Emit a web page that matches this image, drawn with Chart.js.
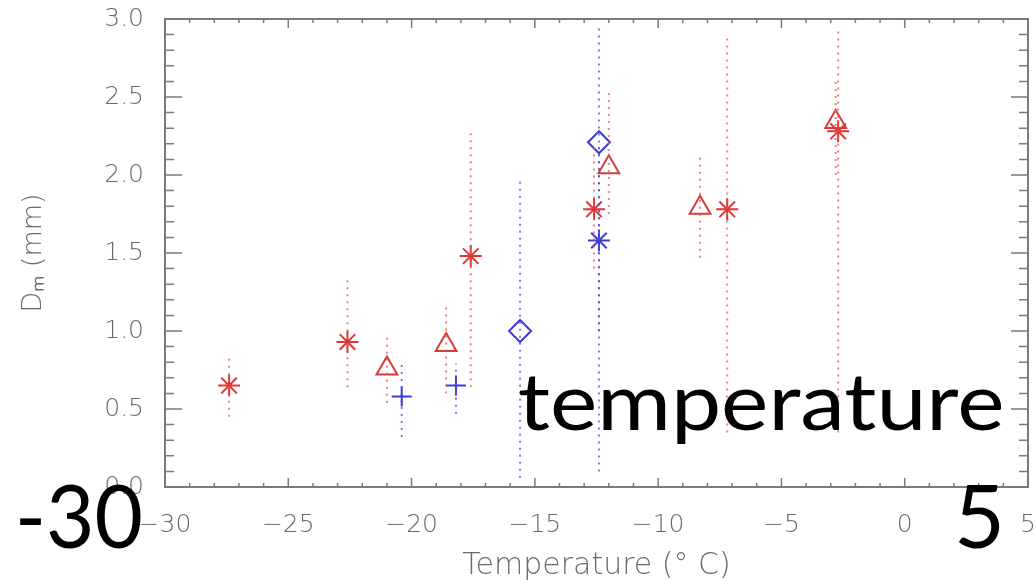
<!DOCTYPE html>
<html>
<head>
<meta charset="utf-8">
<script src="https://cdn.jsdelivr.net/npm/chart.js@4.4.1/dist/chart.umd.min.js"></script>
<style>
  body { margin: 0; background: #fff; }
  #wrap { position: relative; width: 1036px; height: 584px; }
  .big { position: absolute; font-family: Lato, "Open Sans", sans-serif; color: #000; line-height: 1; white-space: nowrap; transform-origin: left top; }
</style>
</head>
<body>
<div id="wrap">
  <canvas id="myChart" width="1036" height="584"></canvas>
  <div class="big" style="left:518px;top:359px;font-size:80px;transform:scaleX(1.12)">temperature</div>
  <div class="big" style="left:15px;top:470px;font-size:88px;transform:scaleX(0.95)">-30</div>
  <div class="big" style="left:954px;top:470px;font-size:88px">5</div>
</div>
<script>
// red asterisks
var redStarT  = [-27.4, -22.6, -17.6, -12.6, -7.2, -2.7];
var redStarD  = [0.65, 0.93, 1.48, 1.78, 1.78, 2.28];
var redStarLo = [0.45, 0.64, 0.64, 1.40, 0.35, 0.35];
var redStarHi = [0.84, 1.33, 2.30, 2.20, 2.88, 2.92];

// red triangles
var redTriT  = [-21.0, -18.6, -12.0, -8.3, -2.8];
var redTriD  = [0.76, 0.91, 2.05, 1.79, 2.34];
var redTriLo = [0.54, 0.60, 1.75, 1.47, 2.00];
var redTriHi = [0.96, 1.15, 2.55, 2.13, 2.60];

// blue diamonds
var blueDiaT  = [-15.6, -12.4];
var blueDiaD  = [1.00, 2.21];
var blueDiaLo = [0.06, 0.10];
var blueDiaHi = [1.98, 2.95];

// blue asterisk
var blueStarT  = [-12.4];
var blueStarD  = [1.58];
var blueStarLo = [1.00];
var blueStarHi = [2.20];

// blue pluses
var bluePlusT  = [-20.4, -18.2];
var bluePlusD  = [0.58, 0.65];
var bluePlusLo = [0.32, 0.47];
var bluePlusHi = [0.80, 0.79];

var xTicks = [-30, -25, -20, -15, -10, -5, 0, 5];
var yTicks = [0.0, 0.5, 1.0, 1.5, 2.0, 2.5, 3.0];

var red = 'rgb(228,52,52)';
var blue = 'rgb(60,60,215)';
var redBar = 'rgba(225,90,90,0.75)';
var blueBar = 'rgba(80,80,215,0.75)';
var axisGray = '#7a7a7a';
var textGray = '#6a6a6a';
var tickFont = { family: 'DejaVu Sans', size: 25, weight: '200' };

function points(xs, ys) {
    var out = [];
    for (var i = 0; i < xs.length; i++) out.push({x: xs[i], y: ys[i]});
    return out;
}

var datasets = [];

function addBars(xs, lo, hi, color) {
    for (var i = 0; i < xs.length; i++) {
        datasets.push({
            type: 'line',
            data: [{x: xs[i], y: lo[i]}, {x: xs[i], y: hi[i]}],
            borderColor: color,
            borderWidth: 2,
            borderDash: [2, 5],
            pointRadius: 0,
            fill: false
        });
    }
}
addBars(redStarT, redStarLo, redStarHi, redBar);
addBars(redTriT, redTriLo, redTriHi, redBar);
addBars(blueDiaT, blueDiaLo, blueDiaHi, blueBar);
addBars(blueStarT, blueStarLo, blueStarHi, blueBar);
addBars(bluePlusT, bluePlusLo, bluePlusHi, blueBar);

function addMarks(xs, ys, style, r, color) {
    datasets.push({
        type: 'scatter',
        data: points(xs, ys),
        pointStyle: style,
        pointRadius: r,
        pointBorderWidth: 2,
        pointBorderColor: color,
        pointBackgroundColor: 'rgba(0,0,0,0)'
    });
}
addMarks(redTriT, redTriD, 'triangle', 12, 'rgb(215,60,60)');
addMarks(blueDiaT, blueDiaD, 'rectRot', 11, blue);
addMarks(bluePlusT, bluePlusD, 'cross', 10, blue);
addMarks(redStarT, redStarD, 'star', 11, red);
addMarks(blueStarT, blueStarD, 'star', 11, blue);

// box with inward ticks on all four sides
var frame = {
    id: 'frame',
    afterDraw: function(chart) {
        var ctx = chart.ctx;
        var a = chart.chartArea;
        var xs = chart.scales.x, ys = chart.scales.y;
        ctx.save();
        ctx.strokeStyle = axisGray;
        ctx.lineWidth = 2;
        ctx.strokeRect(a.left, a.top, a.right - a.left, a.bottom - a.top);
        ctx.lineWidth = 1.5;
        ctx.beginPath();
        for (var t = -30; t <= 5; t++) {
            var px = xs.getPixelForValue(t);
            var len = (t % 5 === 0) ? 9 : 4;
            ctx.moveTo(px, a.bottom); ctx.lineTo(px, a.bottom - len);
            ctx.moveTo(px, a.top); ctx.lineTo(px, a.top + len);
        }
        for (var k = 0; k <= 30; k++) {
            var py = ys.getPixelForValue(k / 10);
            var l2 = (k % 5 === 0) ? 17 : 9;
            ctx.moveTo(a.left, py); ctx.lineTo(a.left + l2, py);
            ctx.moveTo(a.right, py); ctx.lineTo(a.right - l2, py);
        }
        ctx.stroke();
        ctx.restore();
    }
};

var ctx = document.getElementById('myChart').getContext('2d');
var chart = new Chart(ctx, {
    data: { datasets: datasets },
    options: {
        responsive: false,
        animation: false,
        layout: { padding: { top: 19, right: 8, left: 0, bottom: 0 } },
        plugins: { legend: { display: false }, tooltip: { enabled: false } },
        scales: {
            x: {
                type: 'linear',
                min: -30, max: 5,
                afterFit: function(s) { s.height = 97; s.paddingLeft = 0; s.paddingRight = 0; },
                afterBuildTicks: function(s) { s.ticks = xTicks.map(function(v) { return {value: v}; }); },
                ticks: {
                    color: textGray,
                    font: tickFont,
                    padding: 15,
                    maxRotation: 0,
                    autoSkip: false,
                    callback: function(v) { return String(v).replace('-', '\u2212'); }
                },
                grid: { display: false },
                border: { display: false },
                title: {
                    display: true,
                    text: 'Temperature (\u00b0 C)',
                    color: textGray,
                    font: { family: 'DejaVu Sans', size: 30, weight: '200' },
                    padding: { top: 0, bottom: 0 }
                }
            },
            y: {
                type: 'linear',
                min: 0, max: 3,
                afterFit: function(s) { s.width = 165; s.paddingTop = 0; s.paddingBottom = 0; },
                afterBuildTicks: function(s) { s.ticks = yTicks.map(function(v) { return {value: v}; }); },
                ticks: {
                    color: textGray,
                    font: tickFont,
                    padding: 13,
                    autoSkip: false,
                    callback: function(v) { return v.toFixed(1); }
                },
                grid: { display: false },
                border: { display: false },
                title: {
                    display: true,
                    text: 'D\u2098 (mm)',
                    color: textGray,
                    font: { family: 'DejaVu Sans', size: 27, weight: '200' },
                    padding: { top: 18, bottom: 0 }
                }
            }
        }
    },
    plugins: [frame, {
        id: 'fixRight',
        afterLayout: function(chart) {
            // keep the plot box where the reference has it
            chart.chartArea.right = 1028;
            chart.scales.x.right = 1028;
            chart.scales.x.width = 1028 - chart.scales.x.left;
            chart.scales.x.configure();
        }
    }]
});
</script>
</body>
</html>
